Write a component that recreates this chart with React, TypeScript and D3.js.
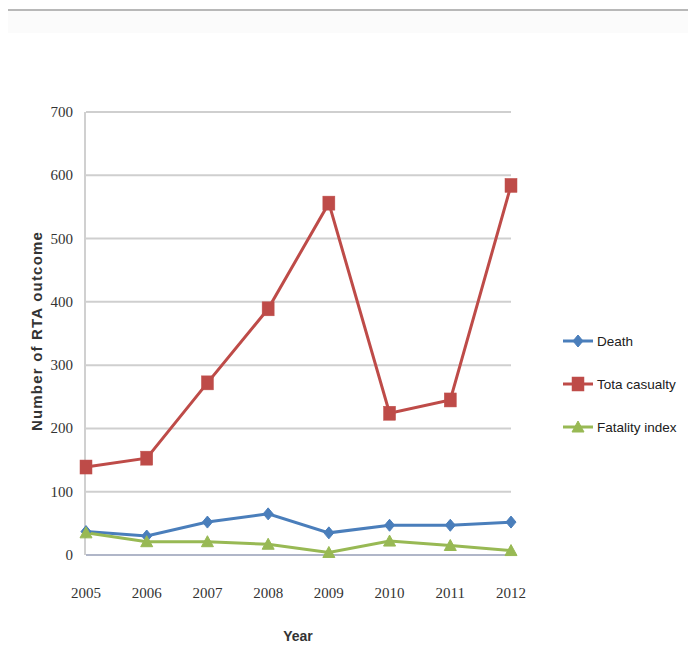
import React from "react";
import * as d3 from "d3";

const years = ["2005", "2006", "2007", "2008", "2009", "2010", "2011", "2012"];
const death = [37, 30, 52, 65, 35, 47, 47, 52];
const totalCasualty = [139, 153, 272, 389, 556, 224, 245, 584];
const fatalityIndex = [35, 21, 21, 17, 4, 22, 15, 7];
const yTicks = [0, 100, 200, 300, 400, 500, 600, 700];
const seriesNames = ["Death", "Tota casualty", "Fatality index"];

const W = 688;
const H = 662;
const left = 86;
const right = 511;
const top = 112;
const bottom = 555;

const COLORS = ["#4a7ebb", "#be4b48", "#98b954"];

export default function App() {
  const x = d3.scalePoint<string>().domain(years).range([left, right]);
  const y = d3.scaleLinear().domain([0, 700]).range([bottom, top]);
  const line = d3
    .line<number>()
    .x((_, i) => x(years[i]) as number)
    .y((d) => y(d));

  const series = [death, totalCasualty, fatalityIndex];

  const marker = (k: number, cx: number, cy: number, key: string) => {
    const c = COLORS[k];
    if (k === 0) {
      const s = 5;
      return (
        <path
          key={key}
          d={`M${cx},${cy - s - 1}L${cx + s},${cy}L${cx},${cy + s + 1}L${cx - s},${cy}Z`}
          fill={c}
          stroke={c}
          strokeWidth={1}
        />
      );
    }
    if (k === 1) {
      return <rect key={key} x={cx - 6} y={cy - 7} width={12} height={14} fill={c} stroke="#c0504d" strokeWidth={0.5} />;
    }
    const s = 6;
    return (
      <path
        key={key}
        d={`M${cx},${cy - s}L${cx + s},${cy + s - 1}L${cx - s},${cy + s - 1}Z`}
        fill={c}
        stroke={c}
        strokeWidth={1}
      />
    );
  };

  return (
    <svg width={W} height={H} style={{ position: "absolute", left: 0, top: 0 }}>
      <rect x={0} y={0} width={W} height={H} fill="#ffffff" />
      <rect x={8} y={11} width={W - 8} height={22} fill="#fbfbfb" />
      <line x1={8} x2={W} y1={10} y2={10} stroke="#b8b8b8" strokeWidth={2} />
      {yTicks.map((t) => (
        <line key={t} x1={left} x2={right} y1={y(t)} y2={y(t)} stroke={t === 0 ? "#b0b6c8" : "#cfcfcf"} strokeWidth={2} />
      ))}
      <line x1={left - 1} x2={left - 1} y1={top} y2={bottom} stroke="#d0d0d0" strokeWidth={2} />
      {yTicks.map((t) => (
        <text
          key={"yt" + t}
          x={73}
          y={y(t) + 5}
          textAnchor="end"
          fontFamily="Liberation Serif"
          fontSize={15}
          fill="#333333"
        >
          {t}
        </text>
      ))}
      {years.map((yr) => (
        <text
          key={"xt" + yr}
          x={x(yr) as number}
          y={598}
          textAnchor="middle"
          fontFamily="Liberation Serif"
          fontSize={15}
          fill="#333333"
        >
          {yr}
        </text>
      ))}
      <text
        x={298}
        y={641}
        textAnchor="middle"
        fontFamily="Liberation Sans"
        fontWeight="bold"
        fontSize={14}
        fill="#333333"
      >
        Year
      </text>
      <text
        transform={`translate(42,331) rotate(-90)`}
        textAnchor="middle"
        fontFamily="Liberation Sans"
        fontWeight="bold"
        fontSize={15}
        letterSpacing={1.2}
        fill="#333333"
      >
        Number of RTA outcome
      </text>
      {series.map((s, k) => (
        <path key={"l" + k} d={line(s) || ""} fill="none" stroke={COLORS[k]} strokeWidth={3} />
      ))}
      {series.map((s, k) => s.map((v, i) => marker(k, x(years[i]) as number, y(v), `m${k}-${i}`)))}
      {seriesNames.map((n, k) => {
        const ly = 341 + k * 43;
        return (
          <g key={"lg" + k}>
            <line x1={563} x2={593} y1={ly} y2={ly} stroke={COLORS[k]} strokeWidth={3} />
            {marker(k, 578, ly, "lm" + k)}
            <text x={597} y={ly + 5} fontFamily="Liberation Sans" fontSize={13.5} fill="#202020">
              {n}
            </text>
          </g>
        );
      })}
    </svg>
  );
}
